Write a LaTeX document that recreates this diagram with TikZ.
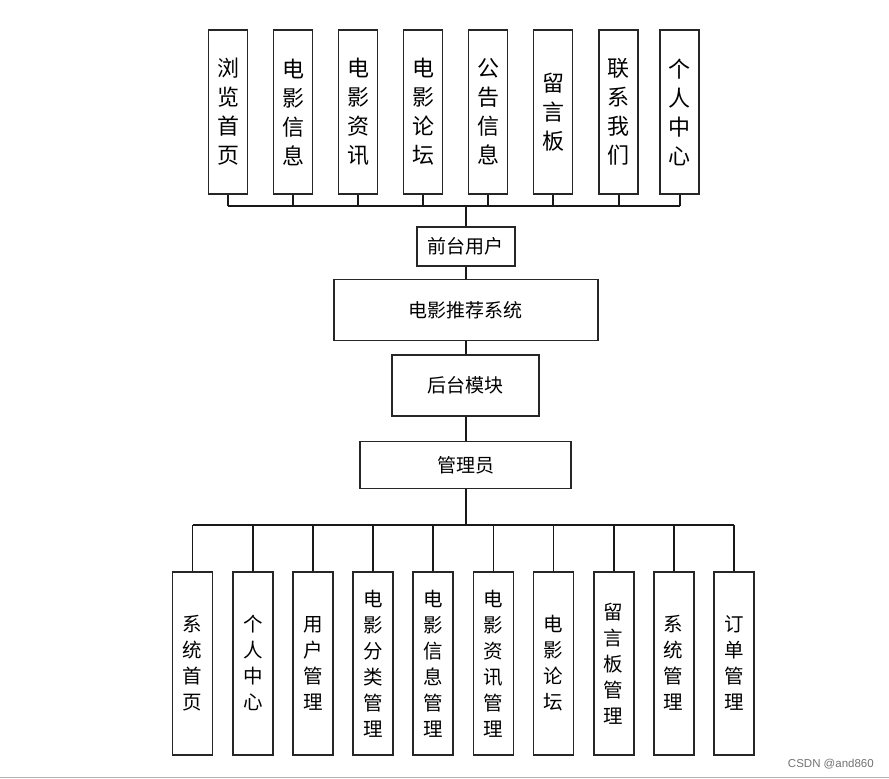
\documentclass[tikz,border=0pt]{standalone}
\usepackage{fontspec}
\newfontfamily\cjk{Noto Sans CJK SC}
\newfontfamily\wmfont{Liberation Sans}
\begin{document}
\begin{tikzpicture}[x=1pt,y=-1pt,
  box/.style={draw=black!85, line width=1.6pt, fill=white, inner sep=0pt, anchor=center},
  topbox/.style={box, minimum width=39pt, minimum height=164pt, align=center, font=\cjk\fontsize{22}{29}\selectfont},
  botbox/.style={box, minimum width=40pt, minimum height=183pt, align=center, font=\cjk\fontsize{19.5}{26}\selectfont},
  midbox/.style={box, font=\cjk\fontsize{19}{23}\selectfont},
  conn/.style={draw=black!90, line width=1.6pt}
]
\useasboundingbox (0,0) rectangle (889,779);
\fill[white] (0,0) rectangle (889,779);
% top boxes
\node[topbox] (t1) at (228,112) {浏\\览\\首\\页};
\node[topbox] (t2) at (293,112) {电\\影\\信\\息};
\node[topbox] (t3) at (358,112) {电\\影\\资\\讯};
\node[topbox] (t4) at (423,112) {电\\影\\论\\坛};
\node[topbox] (t5) at (488,112) {公\\告\\信\\息};
\node[topbox] (t6) at (553,112) {留\\言\\板};
\node[topbox] (t7) at (618.7,112) {联\\系\\我\\们};
\node[topbox] (t8) at (679.7,112) {个\\人\\中\\心};
\coordinate (tbus) at (465.7,205.7);
% middle
\node[midbox, minimum width=98pt, minimum height=39pt] (qt) at (465.7,246.2) {前台用户};
\node[midbox, minimum width=264pt, minimum height=61pt] (sys) at (465.7,310) {电影推荐系统};
\node[midbox, minimum width=147pt, minimum height=61pt] (hm) at (465.7,385.3) {后台模块};
\node[midbox, minimum width=211pt, minimum height=47pt] (adm) at (465.7,465) {管理员};
\coordinate (bbus) at (465.7,524.7);
% bottom boxes
\node[botbox] (b1) at (192.5,663.3) {系\\统\\首\\页};
\node[botbox] (b2) at (253,663.3) {个\\人\\中\\心};
\node[botbox] (b3) at (313,663.3) {用\\户\\管\\理};
\node[botbox] (b4) at (373,663.3) {电\\影\\分\\类\\管\\理};
\node[botbox] (b5) at (433,663.3) {电\\影\\信\\息\\管\\理};
\node[botbox] (b6) at (493.3,663.3) {电\\影\\资\\讯\\管\\理};
\node[botbox] (b7) at (553.5,663.3) {电\\影\\论\\坛};
\node[botbox] (b8) at (613.7,663.3) {留\\言\\板\\管\\理};
\node[botbox] (b9) at (673.7,663.3) {系\\统\\管\\理};
\node[botbox] (b10) at (734,663.3) {订\\单\\管\\理};
% connectors top
\foreach \n in {t1,t2,t3,t4,t5,t6,t7,t8} \draw[conn] (\n.south) -- (\n.south |- tbus);
\draw[conn] (t1.south |- tbus) -- (t8.south |- tbus);
\draw[conn] (qt.north) -- (tbus);
\draw[conn] (qt.south) -- (sys.north);
\draw[conn] (sys.south) -- (hm.north);
\draw[conn] (hm.south) -- (adm.north);
\draw[conn] (adm.south) -- (bbus);
\foreach \n in {b1,b2,b3,b4,b5,b6,b7,b8,b9,b10} \draw[conn] (\n.north) -- (\n.north |- bbus);
\draw[conn] (b1.north |- bbus) -- (b10.north |- bbus);
% watermark
\node[text=black!55, font=\wmfont\fontsize{11.5}{13}\selectfont, anchor=east, inner sep=0pt] (wm) at (874,764) {CSDN @and860};
\draw[black!30, line width=1.5pt] (0,777.5) -- (889,777.5);
\end{tikzpicture}
\end{document}
